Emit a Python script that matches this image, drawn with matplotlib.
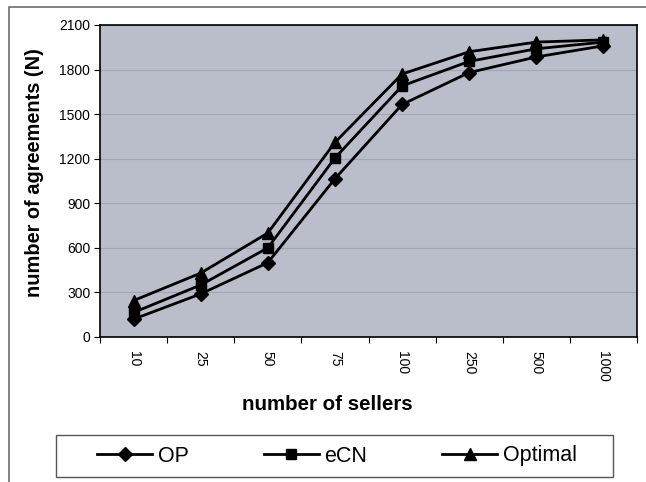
import matplotlib
matplotlib.use("Agg")
import matplotlib.pyplot as plt
from matplotlib.patches import Rectangle

plt.rcParams['font.family'] = ['Liberation Sans', 'DejaVu Sans']

sellers = ["10", "25", "50", "75", "100", "250", "500", "1000"]
op_values = [120, 290, 500, 1065, 1565, 1780, 1885, 1960]
ecn_values = [165, 350, 600, 1205, 1690, 1855, 1940, 1985]
optimal_values = [245, 430, 700, 1310, 1770, 1920, 1985, 2000]
y_ticks = [0, 300, 600, 900, 1200, 1500, 1800, 2100]

W, H = 646, 482
fig = plt.figure(figsize=(W / 100, H / 100), dpi=100)

# outer chart frame
fig.patches.append(Rectangle((9 / W, -0.05), 1.2, (H - 7) / H + 0.05,
                             transform=fig.transFigure, fill=False,
                             edgecolor='#6e6e6e', linewidth=1.2))

# legend frame
fig.patches.append(Rectangle((56 / W, 1 - 477 / H), (613 - 56) / W, (477 - 435) / H,
                             transform=fig.transFigure, fill=False,
                             edgecolor='#555555', linewidth=1.0))

ax = fig.add_axes([100 / W, (H - 337) / H, (637 - 100) / W, (337 - 25) / H])
ax.set_facecolor('#babdca')

x = list(range(len(sellers)))
series = [
    ("OP", op_values, 'D', 7.5),
    ("eCN", ecn_values, 's', 7.5),
    ("Optimal", optimal_values, '^', 9),
]
for name, vals, mk, ms in series:
    ax.plot(x, vals, color='black', linewidth=2.0, marker=mk, markersize=ms,
            markerfacecolor='black', markeredgecolor='black', label=name,
            zorder=3)

ax.set_xlim(-0.5, len(sellers) - 0.5)
ax.set_ylim(0, 2100)
ax.set_yticks(y_ticks)
ax.set_yticklabels([str(v) for v in y_ticks], fontsize=10)
ax.yaxis.grid(True, color='#a3a6b2', linewidth=0.8)
ax.set_axisbelow(True)

ax.set_xticks([i - 0.5 for i in range(len(sellers) + 1)])
ax.set_xticklabels([])
ax.set_xticks(x, minor=True)
ax.set_xticklabels(sellers, minor=True, rotation=270, fontsize=10)
ax.tick_params(axis='x', which='minor', length=0, pad=10)
ax.tick_params(axis='x', which='major', length=4, direction='out', width=0.8)
ax.tick_params(axis='y', length=4, direction='out', width=0.8, pad=3)

for side in ['top', 'right', 'bottom', 'left']:
    ax.spines[side].set_linewidth(1.2)
    ax.spines[side].set_color('black')

ax.set_xlabel("number of sellers", fontsize=14.8, fontweight='bold')
ax.xaxis.set_label_coords((327 - 100) / (637 - 100), -(405 - 337) / (337 - 25),
                          transform=ax.transAxes)
ax.xaxis.label.set_va('center')
ax.set_ylabel("number of agreements (N)", fontsize=14.4, fontweight='bold')
ax.yaxis.set_label_coords(-(100 - 35) / (637 - 100), (337 - 173) / (337 - 25),
                          transform=ax.transAxes)
ax.yaxis.label.set_va('center')

leg = fig.legend(loc='center', bbox_to_anchor=(337 / W, 1 - 456 / H),
                 ncol=3, fontsize=15.5, frameon=False,
                 handlelength=2.55, columnspacing=3.5, handletextpad=0.25)

fig.savefig("out.png", dpi=100)
